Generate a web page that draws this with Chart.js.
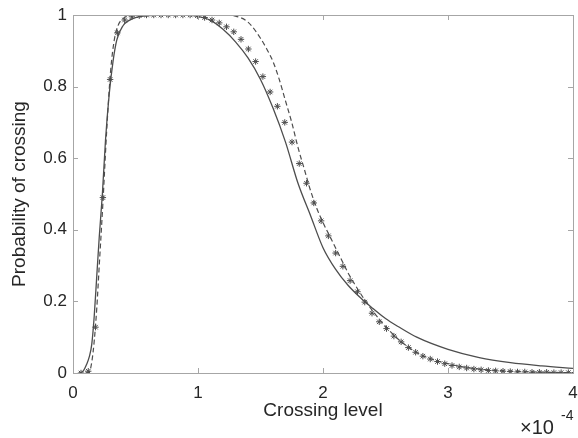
<!DOCTYPE html>
<html>
<head>
<meta charset="utf-8">
<script src="https://cdn.jsdelivr.net/npm/chart.js@4.4.0/dist/chart.umd.min.js"></script>
<style>
  html, body { margin: 0; padding: 0; background: #fff; }
</style>
</head>
<body>
<canvas id="crossing_chart" width="578" height="438"></canvas>
<script>
// 横軸の目盛り (×10^-4)
const xTicks = [0, 1, 2, 3, 4];
const yTicks = [0, 0.2, 0.4, 0.6, 0.8, 1];

// 実線
const solidX = [0.05, 0.08, 0.11, 0.13, 0.15, 0.17, 0.19, 0.21, 0.235, 0.26, 0.29, 0.32, 0.35, 0.40, 0.45, 0.50, 0.60, 0.70, 0.90, 1.00, 1.10, 1.20, 1.30, 1.40, 1.50, 1.60, 1.70, 1.80, 1.90, 2.00, 2.10, 2.20, 2.30, 2.40, 2.50, 2.60, 2.75, 3.00, 3.25, 3.50, 3.75, 4.00];
const solidY = [0, 0.005, 0.025, 0.045, 0.08, 0.16, 0.27, 0.38, 0.50, 0.65, 0.78, 0.87, 0.93, 0.97, 0.985, 0.993, 0.998, 1, 1, 0.996, 0.985, 0.96, 0.925, 0.88, 0.82, 0.74, 0.645, 0.53, 0.44, 0.35, 0.29, 0.245, 0.21, 0.18, 0.152, 0.13, 0.10, 0.066, 0.043, 0.029, 0.02, 0.013];

// 破線
const dashX = [0.10, 0.13, 0.15, 0.17, 0.19, 0.21, 0.24, 0.27, 0.30, 0.33, 0.36, 0.40, 0.45, 0.50, 1.00, 1.20, 1.30, 1.40, 1.50, 1.55, 1.60, 1.65, 1.70, 1.75, 1.80, 1.85, 1.90, 1.95, 2.00, 2.05, 2.10, 2.15, 2.20, 2.25, 2.30, 2.35, 2.40, 2.50, 2.60, 2.70, 2.80, 3.00, 3.20, 3.40, 3.60, 3.80, 4.00];
const dashY = [0, 0.003, 0.03, 0.09, 0.18, 0.30, 0.48, 0.68, 0.84, 0.93, 0.97, 0.99, 0.998, 1, 1, 1, 0.997, 0.98, 0.935, 0.905, 0.87, 0.82, 0.76, 0.70, 0.63, 0.57, 0.51, 0.46, 0.42, 0.385, 0.35, 0.315, 0.28, 0.25, 0.222, 0.196, 0.172, 0.13, 0.095, 0.068, 0.048, 0.026, 0.013, 0.007, 0.004, 0.002, 0.001];

// アスタリスク (シミュレーション)
const starX = [0.064, 0.122, 0.180, 0.239, 0.297, 0.355, 0.413, 0.471, 0.530, 0.588, 0.646, 0.704, 0.762, 0.821, 0.879, 0.937, 0.995, 1.053, 1.112, 1.170, 1.228, 1.286, 1.344, 1.403, 1.461, 1.519, 1.577, 1.635, 1.694, 1.752, 1.810, 1.868, 1.926, 1.985, 2.043, 2.101, 2.159, 2.217, 2.276, 2.334, 2.392, 2.450, 2.508, 2.567, 2.625, 2.683, 2.741, 2.799, 2.858, 2.916, 2.974, 3.032, 3.090, 3.149, 3.207, 3.265, 3.323, 3.381, 3.440, 3.498, 3.556, 3.614, 3.672, 3.731, 3.789, 3.847, 3.905, 3.963];
const starY = [0, 0.005, 0.128, 0.49, 0.82, 0.95, 0.986, 0.995, 0.998, 1, 1, 1, 1, 1, 1, 1, 0.998, 0.993, 0.986, 0.978, 0.967, 0.953, 0.932, 0.905, 0.87, 0.828, 0.785, 0.745, 0.70, 0.645, 0.585, 0.53, 0.475, 0.425, 0.383, 0.335, 0.298, 0.258, 0.227, 0.198, 0.167, 0.143, 0.124, 0.103, 0.087, 0.071, 0.058, 0.047, 0.039, 0.032, 0.026, 0.021, 0.017, 0.014, 0.011, 0.009, 0.007, 0.006, 0.005, 0.004, 0.003, 0.003, 0.002, 0.002, 0.002, 0.001, 0.001, 0.001];

const toPoints = (xs, ys) => xs.map((x, i) => ({x: x, y: ys[i]}));

const FONT = "'Liberation Sans', Arial, sans-serif";
const AXIS = '#a6a6a6';
const TEXT = '#262626';

// 枠線と内向きの目盛り、×10^-4
const boxTicks = {
  id: 'boxTicks',
  afterDraw(chart) {
    const {ctx, chartArea: a, scales: {x, y}} = chart;
    ctx.save();
    ctx.strokeStyle = AXIS;
    ctx.lineWidth = 1;
    ctx.strokeRect(Math.round(a.left) + 0.5, Math.round(a.top) + 0.5, Math.round(a.right - a.left), Math.round(a.bottom - a.top));
    ctx.beginPath();
    xTicks.forEach(v => {
      const px = Math.round(x.getPixelForValue(v)) + 0.5;
      ctx.moveTo(px, a.bottom); ctx.lineTo(px, a.bottom - 5);
      ctx.moveTo(px, a.top); ctx.lineTo(px, a.top + 5);
    });
    yTicks.forEach(v => {
      const py = Math.round(y.getPixelForValue(v)) + 0.5;
      ctx.moveTo(a.left, py); ctx.lineTo(a.left + 5, py);
      ctx.moveTo(a.right, py); ctx.lineTo(a.right - 5, py);
    });
    ctx.stroke();
    ctx.fillStyle = TEXT;
    ctx.textBaseline = 'alphabetic';
    ctx.textAlign = 'left';
    ctx.font = '20px ' + FONT;
    ctx.fillText('\u00d710', 520, 434);
    ctx.font = '14px ' + FONT;
    ctx.fillText('-4', 561, 420);
    ctx.restore();
  }
};

new Chart(document.getElementById('crossing_chart'), {
  type: 'scatter',
  data: {
    datasets: [
      {
        data: toPoints(starX, starY),
        showLine: false,
        pointStyle: 'star',
        pointRadius: 3.2,
        borderWidth: 1,
        borderColor: '#4d4d4d',
        backgroundColor: '#4d4d4d'
      },
      {
        data: toPoints(solidX, solidY),
        showLine: true,
        pointRadius: 0,
        borderWidth: 1.3,
        borderColor: '#4d4d4d',
        cubicInterpolationMode: 'monotone'
      },
      {
        data: toPoints(dashX, dashY),
        showLine: true,
        pointRadius: 0,
        borderWidth: 1.2,
        borderDash: [5, 3],
        borderColor: '#4d4d4d',
        cubicInterpolationMode: 'monotone'
      }
    ]
  },
  plugins: [boxTicks],
  options: {
    responsive: false,
    animation: false,
    layout: { padding: { left: 0, right: 5, top: 15, bottom: 0 } },
    plugins: {
      legend: { display: false },
      tooltip: { enabled: false }
    },
    scales: {
      x: {
        type: 'linear',
        min: 0,
        max: 4,
        afterBuildTicks: (s) => { s.ticks = xTicks.map(v => ({value: v})); },
        afterFit: (s) => { s.height = 65; s.paddingLeft = 0; s.paddingRight = 0; },
        grid: { display: false, drawTicks: false },
        border: { display: false },
        ticks: { color: TEXT, font: { family: FONT, size: 17 }, padding: 10, maxRotation: 0 },
        title: { display: true, text: 'Crossing level', color: TEXT, font: { family: FONT, size: 19 }, padding: { top: 0, bottom: 16 } }
      },
      y: {
        min: 0,
        max: 1,
        afterBuildTicks: (s) => { s.ticks = yTicks.map(v => ({value: v})); },
        afterFit: (s) => { s.width = 73; s.paddingTop = 0; s.paddingBottom = 0; },
        grid: { display: false, drawTicks: false },
        border: { display: false },
        ticks: { color: TEXT, font: { family: FONT, size: 17 }, padding: 6, callback: (v) => `${+v.toFixed(1)}` },
        title: { display: true, text: 'Probability of crossing', color: TEXT, font: { family: FONT, size: 19 }, padding: { top: 8, bottom: 0 } }
      }
    }
  }
});
</script>
</body>
</html>
